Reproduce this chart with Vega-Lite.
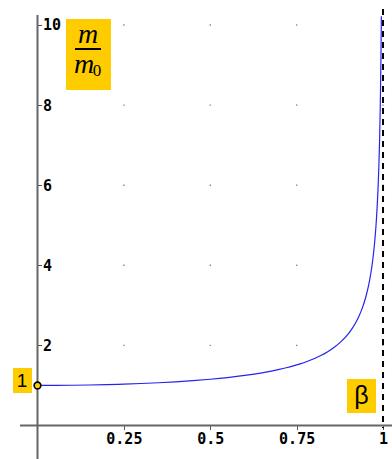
{
  "$schema": "https://vega.github.io/schema/vega-lite/v6.json",
  "width": 392,
  "height": 459,
  "padding": 0,
  "autosize": {"type": "none"},
  "background": "white",
  "config": {"view": {"stroke": null}},
  "encoding": {
    "x": {
      "field": "x",
      "type": "quantitative",
      "scale": {"domain": [-0.1085, 1.026], "nice": false, "zero": false},
      "axis": {
        "orient": "bottom",
        "offset": -33.5,
        "values": [0.25, 0.5, 0.75, 1],
        "labelExpr": "datum.value + ''",
        "domain": false,
        "grid": false,
        "tickSize": 4,
        "tickColor": "#555555",
        "tickWidth": 1,
        "labelFont": "DejaVu Sans Mono",
        "labelFontWeight": "bold",
        "labelFontSize": 15,
        "labelColor": "black",
        "labelPadding": 2,
        "labelFlush": false,
        "labelOverlap": false,
        "title": null
      }
    },
    "y": {
      "field": "y",
      "type": "quantitative",
      "scale": {"domain": [-0.8365, 10.624], "nice": false, "zero": false},
      "axis": {
        "orient": "right",
        "offset": -354.5,
        "values": [2, 4, 6, 8, 10],
        "labelExpr": "datum.value + ''",
        "domain": false,
        "grid": false,
        "tickSize": 4,
        "tickColor": "#555555",
        "tickWidth": 1,
        "labelFont": "DejaVu Sans Mono",
        "labelFontWeight": "bold",
        "labelFontSize": 15,
        "labelColor": "black",
        "labelPadding": 1,
        "labelFlush": false,
        "labelOverlap": false,
        "title": null
      }
    }
  },
  "layer": [
    {
      "data": {"values": [
        {"x": 0.25, "y": 2}, {"x": 0.5, "y": 2}, {"x": 0.75, "y": 2}, {"x": 1, "y": 2},
        {"x": 0.25, "y": 4}, {"x": 0.5, "y": 4}, {"x": 0.75, "y": 4}, {"x": 1, "y": 4},
        {"x": 0.25, "y": 6}, {"x": 0.5, "y": 6}, {"x": 0.75, "y": 6}, {"x": 1, "y": 6},
        {"x": 0.25, "y": 8}, {"x": 0.5, "y": 8}, {"x": 0.75, "y": 8}, {"x": 1, "y": 8},
        {"x": 0.25, "y": 10}, {"x": 0.5, "y": 10}, {"x": 0.75, "y": 10}, {"x": 1, "y": 10}
      ]},
      "mark": {"type": "square", "size": 2, "color": "#888888", "opacity": 1}
    },
    {
      "data": {"values": [
        {"x": -0.0506, "x2": 1.026, "y": 0, "y2": 0},
        {"x": 0, "x2": 0, "y": 10.25, "y2": -0.84}
      ]},
      "mark": {"type": "rule", "color": "#666666", "strokeWidth": 2},
      "encoding": {"x2": {"field": "x2"}, "y2": {"field": "y2"}}
    },
    {
      "data": {"values": [{"x": 1, "y": 10.4, "y2": -0.06}]},
      "mark": {"type": "rule", "color": "black", "strokeWidth": 2, "strokeDash": [6, 5]},
      "encoding": {"y2": {"field": "y2"}}
    },
    {
      "data": {"values": [
        {"x": 0, "y": 1}, {"x": 0.05, "y": 1.00125}, {"x": 0.1, "y": 1.00504},
        {"x": 0.15, "y": 1.01144}, {"x": 0.2, "y": 1.02062}, {"x": 0.25, "y": 1.0328},
        {"x": 0.3, "y": 1.04828}, {"x": 0.35, "y": 1.06752}, {"x": 0.4, "y": 1.09109},
        {"x": 0.45, "y": 1.11978}, {"x": 0.5, "y": 1.1547}, {"x": 0.55, "y": 1.19737},
        {"x": 0.6, "y": 1.25}, {"x": 0.65, "y": 1.3159}, {"x": 0.7, "y": 1.40028},
        {"x": 0.72, "y": 1.44098}, {"x": 0.74, "y": 1.48675}, {"x": 0.76, "y": 1.53864},
        {"x": 0.78, "y": 1.59801}, {"x": 0.8, "y": 1.66667}, {"x": 0.82, "y": 1.74714},
        {"x": 0.84, "y": 1.84302}, {"x": 0.86, "y": 1.95965}, {"x": 0.88, "y": 2.10538},
        {"x": 0.9, "y": 2.29416}, {"x": 0.91, "y": 2.41192}, {"x": 0.92, "y": 2.55155},
        {"x": 0.93, "y": 2.72065}, {"x": 0.94, "y": 2.93105}, {"x": 0.95, "y": 3.20256},
        {"x": 0.955, "y": 3.37149}, {"x": 0.96, "y": 3.57143}, {"x": 0.965, "y": 3.81317},
        {"x": 0.97, "y": 4.11345}, {"x": 0.975, "y": 4.50035}, {"x": 0.98, "y": 5.02519},
        {"x": 0.983, "y": 5.44645}, {"x": 0.986, "y": 5.99712}, {"x": 0.988, "y": 6.4745},
        {"x": 0.99, "y": 7.08881}, {"x": 0.992, "y": 7.92155}, {"x": 0.994, "y": 9.14243},
        {"x": 0.995, "y": 10.0125}, {"x": 0.9952, "y": 10.217}
      ]},
      "mark": {"type": "line", "color": "#2424f0", "strokeWidth": 1.2, "interpolate": "monotone"}
    },
    {
      "data": {"values": [
        {"x": -0.0709, "x2": -0.0159, "y": 1.436, "y2": 0.8115},
        {"x": 0.8958, "x2": 0.9797, "y": 1.161, "y2": 0.312},
        {"x": 0.0825, "x2": 0.2127, "y": 10.15, "y2": 8.377}
      ]},
      "mark": {"type": "rect", "color": "#ffcc00"},
      "encoding": {"x2": {"field": "x2"}, "y2": {"field": "y2"}}
    },
    {
      "data": {"values": [{"x": 0, "y": 1}]},
      "mark": {"type": "point", "shape": "circle", "size": 45, "filled": true, "fill": "#ffcc00", "stroke": "black", "strokeWidth": 1.6, "opacity": 1}
    },
    {
      "data": {"values": [{"x": -0.0449, "y": 1.111, "t": "1"}]},
      "mark": {"type": "text", "font": "Liberation Sans", "fontSize": 19, "color": "black", "align": "center", "baseline": "middle"},
      "encoding": {"text": {"field": "t"}}
    },
    {
      "data": {"values": [{"x": 0.9378, "y": 0.7366, "t": "β"}]},
      "mark": {"type": "text", "font": "Liberation Sans", "fontSize": 25, "color": "black", "align": "center", "baseline": "middle"},
      "encoding": {"text": {"field": "t"}}
    },
    {
      "data": {"values": [{"x": 0.1462, "y": 9.76, "t": "m"}, {"x": 0.1346, "y": 8.99, "t": "m"}]},
      "mark": {"type": "text", "font": "Liberation Serif", "fontStyle": "italic", "fontSize": 28, "color": "black", "align": "center", "baseline": "middle"},
      "encoding": {"text": {"field": "t"}}
    },
    {
      "data": {"values": [{"x": 0.1722, "y": 8.851, "t": "0"}]},
      "mark": {"type": "text", "font": "Liberation Serif", "fontSize": 17, "color": "black", "align": "center", "baseline": "middle"},
      "encoding": {"text": {"field": "t"}}
    },
    {
      "data": {"values": [{"x": 0.1085, "x2": 0.1838, "y": 9.401}]},
      "mark": {"type": "rule", "color": "black", "strokeWidth": 2},
      "encoding": {"x2": {"field": "x2"}}
    }
  ]
}
